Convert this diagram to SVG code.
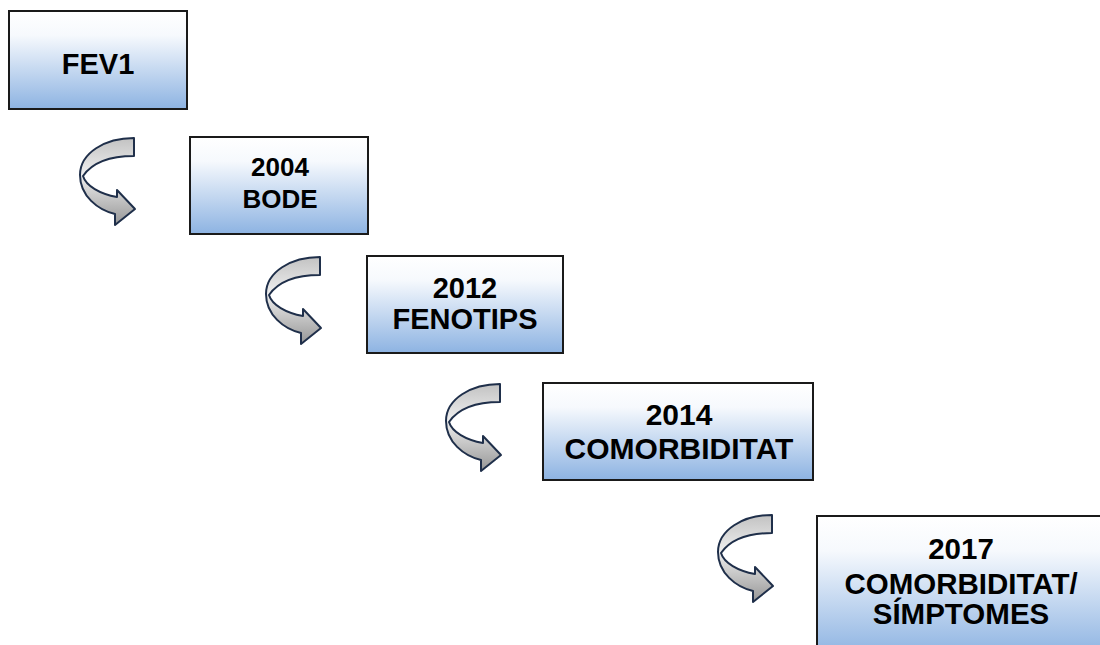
<svg xmlns="http://www.w3.org/2000/svg" width="1100" height="645" viewBox="0 0 1100 645">
  <defs>
    <linearGradient id="boxGrad" x1="0" y1="0" x2="0" y2="1">
      <stop offset="0" stop-color="#ffffff"/>
      <stop offset="0.25" stop-color="#f6f9fd"/>
      <stop offset="1" stop-color="#8db3e2"/>
    </linearGradient>
    <linearGradient id="arrowGrad" x1="0" y1="0" x2="0" y2="1">
      <stop offset="0" stop-color="#c2c2c2"/>
      <stop offset="0.42" stop-color="#efefef"/>
      <stop offset="1" stop-color="#969696"/>
    </linearGradient>
    <path id="curvedArrow" d="M54,0 C25,0 0,15 0,37 C0,58 18,72 35,76 L35,87 L55,71 L37,52 L37,59 C20,56 6,48 3,38 C12,25 30,18 54,18 Z"/>
  </defs>
  <style>
    .box { fill: url(#boxGrad); stroke: #1a1a1a; stroke-width: 2; }
    .lbl { font-family: "Liberation Sans", Arial, sans-serif; font-weight: bold; fill: #000; text-anchor: middle; }
    .arrow { fill: url(#arrowGrad); stroke: #1f2f4a; stroke-width: 2; stroke-linejoin: round; }
  </style>
  <rect width="1100" height="645" fill="#ffffff"/>

  <g id="connectors">
    <use href="#curvedArrow" class="arrow" transform="translate(80,138)"/>
    <use href="#curvedArrow" class="arrow" transform="translate(266,257)"/>
    <use href="#curvedArrow" class="arrow" transform="translate(446,384)"/>
    <use href="#curvedArrow" class="arrow" transform="translate(718,515)"/>
  </g>

  <g id="node-fev1">
    <rect class="box" x="9" y="11" width="178" height="98"/>
    <text class="lbl" x="98" y="74" font-size="29">FEV1</text>
  </g>

  <g id="node-2004">
    <rect class="box" x="190" y="137" width="178" height="97"/>
    <text class="lbl" x="280" y="176" font-size="26">2004</text>
    <text class="lbl" x="280" y="208" font-size="26">BODE</text>
  </g>

  <g id="node-2012">
    <rect class="box" x="367" y="256" width="196" height="97"/>
    <text class="lbl" x="465" y="298" font-size="29">2012</text>
    <text class="lbl" x="465" y="329" font-size="29">FENOTIPS</text>
  </g>

  <g id="node-2014">
    <rect class="box" x="543" y="383" width="270" height="97"/>
    <text class="lbl" x="679" y="425" font-size="30">2014</text>
    <text class="lbl" x="679" y="459" font-size="30">COMORBIDITAT</text>
  </g>

  <g id="node-2017">
    <rect class="box" x="817" y="516" width="300" height="140"/>
    <text class="lbl" x="961" y="559" font-size="29.5">2017</text>
    <text class="lbl" x="961" y="594" font-size="29.5">COMORBIDITAT/</text>
    <text class="lbl" x="961" y="624" font-size="29.5">SÍMPTOMES</text>
  </g>
</svg>
